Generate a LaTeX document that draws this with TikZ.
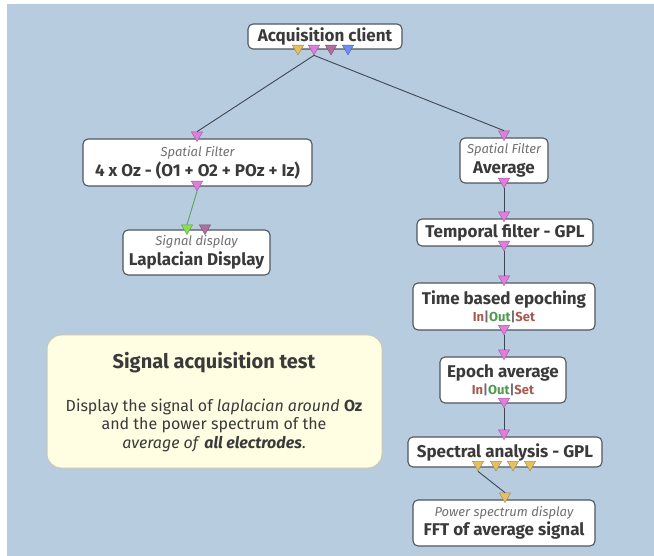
\documentclass[tikz,border=0pt]{standalone}
\usepackage{fontspec}
\setmainfont{Fira Sans}
\usetikzlibrary{shapes.geometric}

\definecolor{bgblue}{HTML}{B8CCE0}
\definecolor{boxline}{HTML}{4E565E}
\definecolor{txt}{HTML}{3A3A3A}
\definecolor{subgray}{HTML}{707070}
\definecolor{linkc}{HTML}{3E4650}
\definecolor{linkgreen}{HTML}{5EA060}
\definecolor{tyellow}{HTML}{E6C060}
\definecolor{tpink}{HTML}{E07EDC}
\definecolor{tpurple}{HTML}{B0709E}
\definecolor{tblue}{HTML}{6E8EF0}
\definecolor{tgreen}{HTML}{86E050}
\definecolor{notefill}{HTML}{FFFDE2}
\definecolor{noteline}{HTML}{C9C8B4}
\definecolor{inred}{HTML}{A85A50}
\definecolor{outgreen}{HTML}{4E9A4E}

\newcommand\boxkind[1]{{\mdseries\itshape\color{subgray}\fontsize{13}{15}\selectfont #1}}
\newcommand\ios{{\fontseries{sb}\selectfont\fontsize{13}{15}\selectfont\color{inred}In\color{subgray}|\color{outgreen}Out\color{subgray}|\color{inred}Set}}

\begin{document}
\begin{tikzpicture}[x=1pt,y=-1pt,
  every node/.style={font=\fontsize{17}{20}\selectfont},
  box/.style={draw=boxline, line width=1.1pt, fill=white, rounded corners=5pt,
    inner sep=0pt, align=center, text=txt, font=\bfseries\fontsize{17}{20}\selectfont},
  tri/.style={regular polygon, regular polygon sides=3, shape border rotate=180,
    minimum size=13pt, inner sep=0pt, line width=0.4pt},
  link/.style={draw=linkc, line width=0.9pt}]

  \useasboundingbox (0,0) rectangle (654,556);
  \fill[bgblue] (7,4) rectangle (654,556);

  \node[box, minimum width=154pt, minimum height=25pt] (acq) at (325,36.5) {Acquisition client};
  \node[box, minimum width=229pt, minimum height=47pt] (sfl) at (197.5,162.5)
    {\boxkind{Spatial Filter}\\4 x Oz - (O1 + O2 + POz + Iz)};
  \node[box, minimum width=147pt, minimum height=45pt] (sdisp) at (196.5,252.5)
    {\boxkind{Signal display}\\Laplacian Display};
  \node[box, minimum width=88pt, minimum height=45pt] (sfa) at (504,160.5)
    {\boxkind{Spatial Filter}\\Average};
  \node[box, minimum width=176pt, minimum height=27pt] (tf) at (505,232.5) {Temporal filter - GPL};
  \node[box, minimum width=182pt, minimum height=47pt] (tbe) at (504,306.5)
    {Time based epoching\\[-3pt]\ios};
  \node[box, minimum width=126pt, minimum height=46pt] (ea) at (503,380)
    {Epoch average\\[-3pt]\ios};
  \node[box, minimum width=194pt, minimum height=30pt] (sa) at (505,452) {Spectral analysis - GPL};
  \node[box, minimum width=182pt, minimum height=46pt] (ps) at (504,523)
    {\boxkind{Power spectrum display}\\[-1pt]FFT of average signal};

  \node[draw=noteline, line width=1pt, fill=notefill, rounded corners=14pt,
    minimum width=335pt, minimum height=133pt, inner sep=0pt] (note) at (214.5,401.5) {};
  \node[text=txt, font=\bfseries\fontsize{20}{24}\selectfont] (notetitle) at (214,363) {Signal acquisition test};
  \node[text=txt, align=center, font=\fontsize{16}{18.5}\selectfont] (notebody) at (214,425)
    {Display the signal of \textit{laplacian around} \textbf{Oz}\\
     and the power spectrum of the\\
     \textit{average of} \textbf{\textit{all electrodes}}.};

  \foreach \x/\c [count=\i] in {298/tyellow,314/tpink,331/tpurple,348/tblue}
    \node[tri, fill=\c, draw=\c!70!black, anchor=north] (acq-o\i) at (\x,45) {};
  \foreach \x/\c [count=\i] in {478/tyellow,496/tyellow,513/tyellow,530/tyellow}
    \node[tri, fill=\c, draw=\c!70!black, anchor=north] (sa-o\i) at (\x,461) {};

  \node[tri, fill=tpink, draw=tpink!70!black, anchor=corner 1] (sfl-i) at (197,142) {};
  \node[tri, fill=tpink, draw=tpink!70!black, anchor=north] (sfl-o) at (197,181) {};
  \node[tri, fill=tgreen, draw=tgreen!70!black, anchor=corner 1] (sdisp-i1) at (187,235) {};
  \node[tri, fill=tpurple, draw=tpurple!70!black, anchor=corner 1] (sdisp-i2) at (205,235) {};
  \node[tri, fill=tpink, draw=tpink!70!black, anchor=corner 1] (sfa-i) at (504,141) {};
  \node[tri, fill=tpink, draw=tpink!70!black, anchor=north] (sfa-o) at (504,178) {};
  \node[tri, fill=tpink, draw=tpink!70!black, anchor=corner 1] (tf-i) at (504,222) {};
  \node[tri, fill=tpink, draw=tpink!70!black, anchor=north] (tf-o) at (504,241) {};
  \node[tri, fill=tpink, draw=tpink!70!black, anchor=corner 1] (tbe-i) at (504,286) {};
  \node[tri, fill=tpink, draw=tpink!70!black, anchor=north] (tbe-o) at (504,325) {};
  \node[tri, fill=tpink, draw=tpink!70!black, anchor=corner 1] (ea-i) at (504,360) {};
  \node[tri, fill=tpink, draw=tpink!70!black, anchor=north] (ea-o) at (504,398) {};
  \node[tri, fill=tpink, draw=tpink!70!black, anchor=corner 1] (sa-i) at (504,440) {};
  \node[tri, fill=tyellow, draw=tyellow!70!black, anchor=corner 1] (ps-i) at (505,503) {};

  \draw[link] (acq-o2.corner 1) -- (sfl-i.north);
  \draw[link] (acq-o2.corner 1) -- (sfa-i.north);
  \draw[draw=linkgreen, line width=0.9pt] (sfl-o.corner 1) -- (sdisp-i1.north);
  \draw[link] (sfa-o.corner 1) -- (tf-i.north);
  \draw[link] (tf-o.corner 1) -- (tbe-i.north);
  \draw[link] (tbe-o.corner 1) -- (ea-i.north);
  \draw[link] (ea-o.corner 1) -- (sa-i.north);
  \draw[link] (sa-o1.corner 1) -- (ps-i.north);
\end{tikzpicture}
\end{document}
